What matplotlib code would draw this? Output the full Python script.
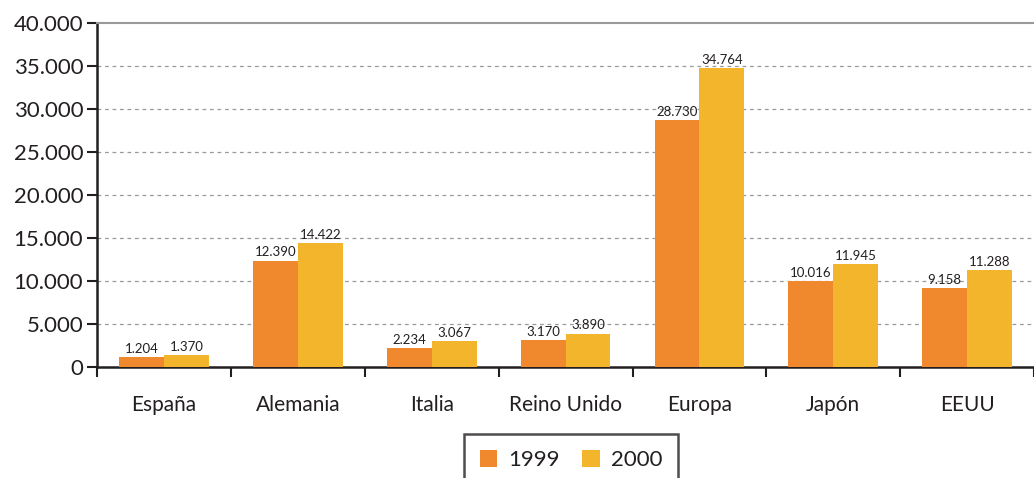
import matplotlib
matplotlib.use('Agg')
import matplotlib.pyplot as plt
from matplotlib.ticker import FuncFormatter, FixedLocator
import numpy as np

categories = ['España', 'Alemania', 'Italia', 'Reino Unido', 'Europa', 'Japón', 'EEUU']
v1999 = [1204, 12390, 2234, 3170, 28730, 10016, 9158]
v2000 = [1370, 14422, 3067, 3890, 34764, 11945, 11288]
series_labels = ['1999', '2000']

C1999 = '#F0882E'
C2000 = '#F2B52C'
DARK = '#231F20'

plt.rcParams['font.family'] = ['Lato', 'DejaVu Sans']


def fmt(v):
    return f'{int(v):,}'.replace(',', '.')


fig = plt.figure(figsize=(10.34, 4.78), dpi=100)
ax = fig.add_axes([0.094, 0.232, 0.906, 0.72])

x = np.arange(len(categories))
w = 0.335
b1 = ax.bar(x - w / 2, v1999, w, color=C1999, label=series_labels[0], zorder=3)
b2 = ax.bar(x + w / 2, v2000, w, color=C2000, label=series_labels[1], zorder=3)

for bars, vals in ((b1, v1999), (b2, v2000)):
    for r, v in zip(bars, vals):
        ax.text(r.get_x() + r.get_width() / 2, v + 250, fmt(v),
                ha='center', va='bottom', fontsize=9.5, color=DARK, zorder=4)

ax.set_xlim(-0.5, len(categories) - 0.5)
ax.set_ylim(0, 40000)
ax.set_yticks(np.arange(0, 40001, 5000))
ax.yaxis.set_major_formatter(FuncFormatter(lambda v, p: fmt(v)))
ax.tick_params(axis='y', labelsize=16, colors=DARK, length=7, width=1.5, pad=3)

# category labels in the middle, tick marks on the boundaries
ax.set_xticks(x)
ax.set_xticklabels(categories)
ax.tick_params(axis='x', which='major', length=0, labelsize=15, colors=DARK, pad=20)
ax.xaxis.set_minor_locator(FixedLocator(np.arange(-0.5, len(categories), 1.0)))
ax.tick_params(axis='x', which='minor', length=7, width=1.5, color=DARK)

for y in range(5000, 40000, 5000):
    ax.axhline(y, color='#9a9a9a', lw=0.9, ls=(0, (3, 3)), zorder=1)

ax.spines['top'].set_color('#9a9a9a')
ax.spines['top'].set_linewidth(1.5)
ax.spines['right'].set_visible(False)
ax.spines['left'].set_color(DARK)
ax.spines['left'].set_linewidth(1.8)
ax.spines['bottom'].set_color(DARK)
ax.spines['bottom'].set_linewidth(1.8)

# legend box runs off the bottom edge, as in the original
leg = ax.legend(handles=[b1, b2], loc='upper left',
                bbox_to_anchor=(464 / 1034, 1 - 434 / 478),
                bbox_transform=fig.transFigure,
                ncol=2, fontsize=16, frameon=True, fancybox=False,
                handlelength=0.8, handleheight=0.8, handletextpad=0.5,
                columnspacing=1.0, borderpad=0.7, borderaxespad=0)
leg.get_frame().set_edgecolor(DARK)
leg.get_frame().set_linewidth(1.8)
for t in leg.get_texts():
    t.set_color(DARK)

fig.savefig('out.png', dpi=100)
